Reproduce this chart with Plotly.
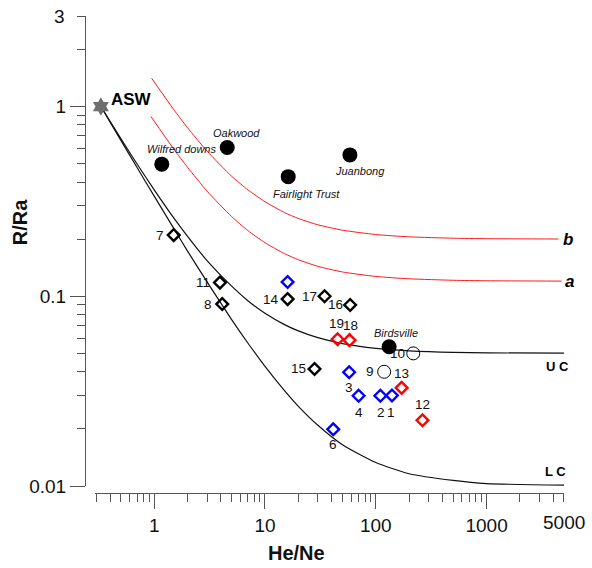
import numpy as np
import plotly.graph_objects as go

# ---------------- data ----------------
# ASW end member
asw_x = [0.33]
asw_y = [1.0]

# black diamonds
blk_id = ["7", "11", "8", "14", "17", "16", "15"]
blk_x = [1.50, 3.92, 4.11, 16.0, 34.5, 58.7, 28.0]
blk_y = [0.210, 0.118, 0.091, 0.0966, 0.100, 0.090, 0.0414]

# blue diamonds
blu_id = ["", "3", "4", "2", "1", "6"]
blu_x = [16.0, 57.5, 70.0, 110.0, 140.0, 41.3]
blu_y = [0.119, 0.0398, 0.0299, 0.0299, 0.0300, 0.0199]

# red diamonds
red_id = ["19", "18", "13", "12"]
red_x = [45.2, 58.0, 171.0, 264.0]
red_y = [0.0594, 0.0587, 0.0329, 0.0222]

# open circles
opn_id = ["9", "10"]
opn_x = [119.0, 218.0]
opn_y = [0.040, 0.050]

# filled circles (named sites)
site_name = ["Wilfred downs", "Oakwood", "Fairlight Trust", "Juanbong", "Birdsville"]
site_x = [1.17, 4.56, 16.2, 58.4, 132.0]
site_y = [0.497, 0.608, 0.427, 0.556, 0.0542]

# mixing curves
uc_x = [0.33, 0.5, 0.7, 1, 1.5, 2, 3, 5, 7, 10, 15, 20, 30, 50, 100, 200, 500, 1000, 5000]
uc_y = [1.0, 0.677, 0.498, 0.364, 0.259, 0.207, 0.154, 0.113, 0.0948, 0.0814, 0.0709,
        0.0657, 0.0605, 0.0563, 0.0531, 0.0516, 0.0506, 0.0503, 0.0501]
lc_x = [0.33, 0.5, 0.7, 1, 1.5, 2, 3, 5, 7, 10, 15, 20, 30, 50, 100, 200, 500, 1000, 5000]
lc_y = [1.0, 0.663, 0.477, 0.337, 0.228, 0.173, 0.119, 0.0753, 0.0567, 0.0427, 0.0318,
        0.0263, 0.0209, 0.0165, 0.0133, 0.0116, 0.0107, 0.0103, 0.0101]
a_x = [0.934, 1.5, 2, 3, 5, 7, 10, 15, 20, 30, 50, 100, 200, 500, 1000, 4750]
a_y = [0.886, 0.597, 0.478, 0.358, 0.263, 0.222, 0.1915, 0.1677, 0.1558, 0.1438, 0.1343,
       0.1272, 0.1236, 0.1214, 0.1207, 0.1202]
b_x = [0.947, 1.5, 2, 3, 5, 7, 10, 15, 20, 30, 50, 100, 200, 500, 1000, 4450]
b_y = [1.41, 0.964, 0.773, 0.582, 0.429, 0.364, 0.315, 0.276, 0.257, 0.238, 0.223,
       0.2115, 0.2057, 0.2023, 0.2011, 0.2003]

x_ticks = [1, 10, 100, 1000]
x_ticktext = ["1", "10", "100", "1000"]
y_ticks = [0.01, 0.1, 1]
y_ticktext = ["0.01", "0.1", "1"]

# ---------------- layout geometry / styling ----------------
W, H = 592, 568
ML, MR, MT, MB = 85, 27.5, 16, 75.3
PW, PH = W - ML - MR, H - MT - MB
FONT = "Liberation Sans, Arial, sans-serif"
AXC = "#555555"


def px2paper_x(px):
    return (px - ML) / PW


def px2paper_y(py):
    return (H - MB - py) / PH


fig = go.Figure()

line_style = dict(shape="spline", smoothing=0.6)
fig.add_trace(go.Scatter(x=b_x, y=b_y, mode="lines", line=dict(color="#ff1a1a", width=1, **line_style)))
fig.add_trace(go.Scatter(x=a_x, y=a_y, mode="lines", line=dict(color="#ff1a1a", width=1, **line_style)))
fig.add_trace(go.Scatter(x=uc_x, y=uc_y, mode="lines", line=dict(color="#111111", width=1.2, **line_style)))
fig.add_trace(go.Scatter(x=lc_x, y=lc_y, mode="lines", line=dict(color="#111111", width=1.2, **line_style)))

dm = dict(symbol="diamond-open", size=9)
fig.add_trace(go.Scatter(x=blk_x, y=blk_y, mode="markers",
                         marker=dict(color="#000000", line=dict(width=2.4, color="#000000"), **dm)))
fig.add_trace(go.Scatter(x=blu_x, y=blu_y, mode="markers",
                         marker=dict(color="#0000ff", line=dict(width=2.4, color="#0000ff"), **dm)))
fig.add_trace(go.Scatter(x=red_x, y=red_y, mode="markers",
                         marker=dict(color="#ff0000", line=dict(width=2.4, color="#ff0000"), **dm)))
fig.add_trace(go.Scatter(x=opn_x, y=opn_y, mode="markers",
                         marker=dict(symbol="circle", size=13, color="rgba(255,255,255,0)",
                                     line=dict(width=1, color="#000000"))))
fig.add_trace(go.Scatter(x=site_x, y=site_y, mode="markers",
                         marker=dict(symbol="circle", size=15, color="#000000", line=dict(width=0))))
fig.add_trace(go.Scatter(x=asw_x, y=asw_y, mode="markers",
                         marker=dict(symbol="hexagram", size=14, color="#6e6e6e", line=dict(width=0)),
                         cliponaxis=False))

ann = []
num_font = dict(family=FONT, size=13.5, color="#111111")
# label offsets (pixels, +x right, +y down) per sample id
num_off = {"7": (-14, 0), "11": (-17, 0), "8": (-14, 0), "14": (-17, 0), "17": (-15, 0),
           "16": (-15, 0), "15": (-16, 0), "3": (0, 15), "4": (0, 17), "2": (1, 17),
           "1": (-1, 17), "6": (0, 15), "19": (-1, -16), "18": (1, -15), "13": (0, -14),
           "12": (0, -16), "9": (-14, 0), "10": (-16, 0)}
for ids, xs, ys in [(blk_id, blk_x, blk_y), (blu_id, blu_x, blu_y), (red_id, red_x, red_y),
                    (opn_id, opn_x, opn_y)]:
    for i, xv, yv in zip(ids, xs, ys):
        if not i:
            continue
        dx, dy = num_off[i]
        ann.append(dict(x=np.log10(xv), y=np.log10(yv), xref="x", yref="y", text=i,
                        showarrow=False, xshift=dx, yshift=-dy, xanchor="center", yanchor="middle",
                        font=num_font))

site_off = {"Wilfred downs": (20, -15), "Oakwood": (9, -15), "Fairlight Trust": (18, 17),
            "Juanbong": (10, 16), "Birdsville": (7, -14)}
for n, xv, yv in zip(site_name, site_x, site_y):
    dx, dy = site_off[n]
    ann.append(dict(x=np.log10(xv), y=np.log10(yv), xref="x", yref="y",
                    text="<i>%s</i>" % n, showarrow=False, xshift=dx, yshift=-dy,
                    xanchor="center", yanchor="middle",
                    font=dict(family=FONT, size=11, color="#111111")))

ann.append(dict(x=np.log10(asw_x[0]), y=np.log10(asw_y[0]), xref="x", yref="y", text="<b>ASW</b>",
                showarrow=False, xshift=31, yshift=7, xanchor="center", yanchor="middle",
                font=dict(family=FONT, size=17, color="#000")))

# curve end labels
ann.append(dict(x=np.log10(uc_x[-1]), y=np.log10(uc_y[-1]), xref="x", yref="y", text="<b>U C</b>",
                showarrow=False, xshift=-6, yshift=-13, xanchor="center", yanchor="middle",
                font=dict(family=FONT, size=13, color="#000")))
ann.append(dict(x=np.log10(lc_x[-1]), y=np.log10(lc_y[-1]), xref="x", yref="y", text="<b>L C</b>",
                showarrow=False, xshift=-8, yshift=14, xanchor="center", yanchor="middle",
                font=dict(family=FONT, size=13, color="#000")))
ann.append(dict(x=np.log10(a_x[-1]), y=np.log10(a_y[-1]), xref="x", yref="y", text="<b><i>a</i></b>",
                showarrow=False, xshift=8, yshift=0, xanchor="center", yanchor="middle",
                font=dict(family=FONT, size=17, color="#000")))
ann.append(dict(x=np.log10(b_x[-1]), y=np.log10(b_y[-1]), xref="x", yref="y", text="<b><i>b</i></b>",
                showarrow=False, xshift=10, yshift=0, xanchor="center", yanchor="middle",
                font=dict(family=FONT, size=17, color="#000")))

# extra tick labels on minor ticks (3 and 5000)
ann.append(dict(x=np.log10(5000), y=px2paper_y(522), xref="x", yref="paper", text="5000",
                showarrow=False, xanchor="center", yanchor="middle",
                font=dict(family=FONT, size=19, color="#111")))
ann.append(dict(x=px2paper_x(67), y=np.log10(3), xref="paper", yref="y", text="3",
                showarrow=False, xanchor="right", yanchor="middle",
                font=dict(family=FONT, size=19, color="#111")))

# axis titles
ann.append(dict(x=px2paper_x(297), y=px2paper_y(553), xref="paper", yref="paper", text="<b>He/Ne</b>",
                showarrow=False, xanchor="center", yanchor="middle",
                font=dict(family=FONT, size=20, color="#111")))
ann.append(dict(x=px2paper_x(20), y=px2paper_y(222), xref="paper", yref="paper", text="<b>R/Ra</b>",
                showarrow=False, textangle=-90, xanchor="center", yanchor="middle",
                font=dict(family=FONT, size=20, color="#111")))

x_minor = [0.3, 0.4, 0.5, 0.6, 0.7, 0.8, 0.9] + [v * 10 ** k for k in range(0, 3) for v in range(2, 10)] \
          + [2000, 3000, 4000, 5000]
y_minor = [v * 10 ** k for k in (-2, -1) for v in range(2, 10)] + [2, 3]

fig.update_layout(
    width=W, height=H, showlegend=False,
    paper_bgcolor="white", plot_bgcolor="white",
    margin=dict(l=ML, r=MR, t=MT, b=MB, pad=0),
    font=dict(family=FONT, color="#111"),
    annotations=ann,
    xaxis=dict(type="log", range=[np.log10(0.292), np.log10(5000)],
               domain=[px2paper_x(95), 1], anchor="free", position=0,
               showline=True, linecolor=AXC, linewidth=1, mirror=False,
               ticks="outside", ticklen=15, tickwidth=1, tickcolor=AXC,
               tickmode="array", tickvals=x_ticks, ticktext=x_ticktext,
               tickfont=dict(family=FONT, size=19, color="#111"),
               showgrid=False, zeroline=False,
               minor=dict(tickmode="array", tickvals=x_minor, ticks="outside", ticklen=8,
                          tickwidth=1, tickcolor=AXC, showgrid=False)),
    yaxis=dict(type="log", range=[-2, np.log10(3)],
               domain=[px2paper_y(485.7), 1], anchor="free", position=0,
               showline=True, linecolor=AXC, linewidth=1,
               ticks="outside", ticklen=15, tickwidth=1, tickcolor=AXC,
               tickmode="array", tickvals=y_ticks, ticktext=y_ticktext,
               tickfont=dict(family=FONT, size=19, color="#111"),
               showgrid=False, zeroline=False,
               minor=dict(tickmode="array", tickvals=y_minor, ticks="outside", ticklen=8,
                          tickwidth=1, tickcolor=AXC, showgrid=False)),
)

fig.write_html("out.html")
